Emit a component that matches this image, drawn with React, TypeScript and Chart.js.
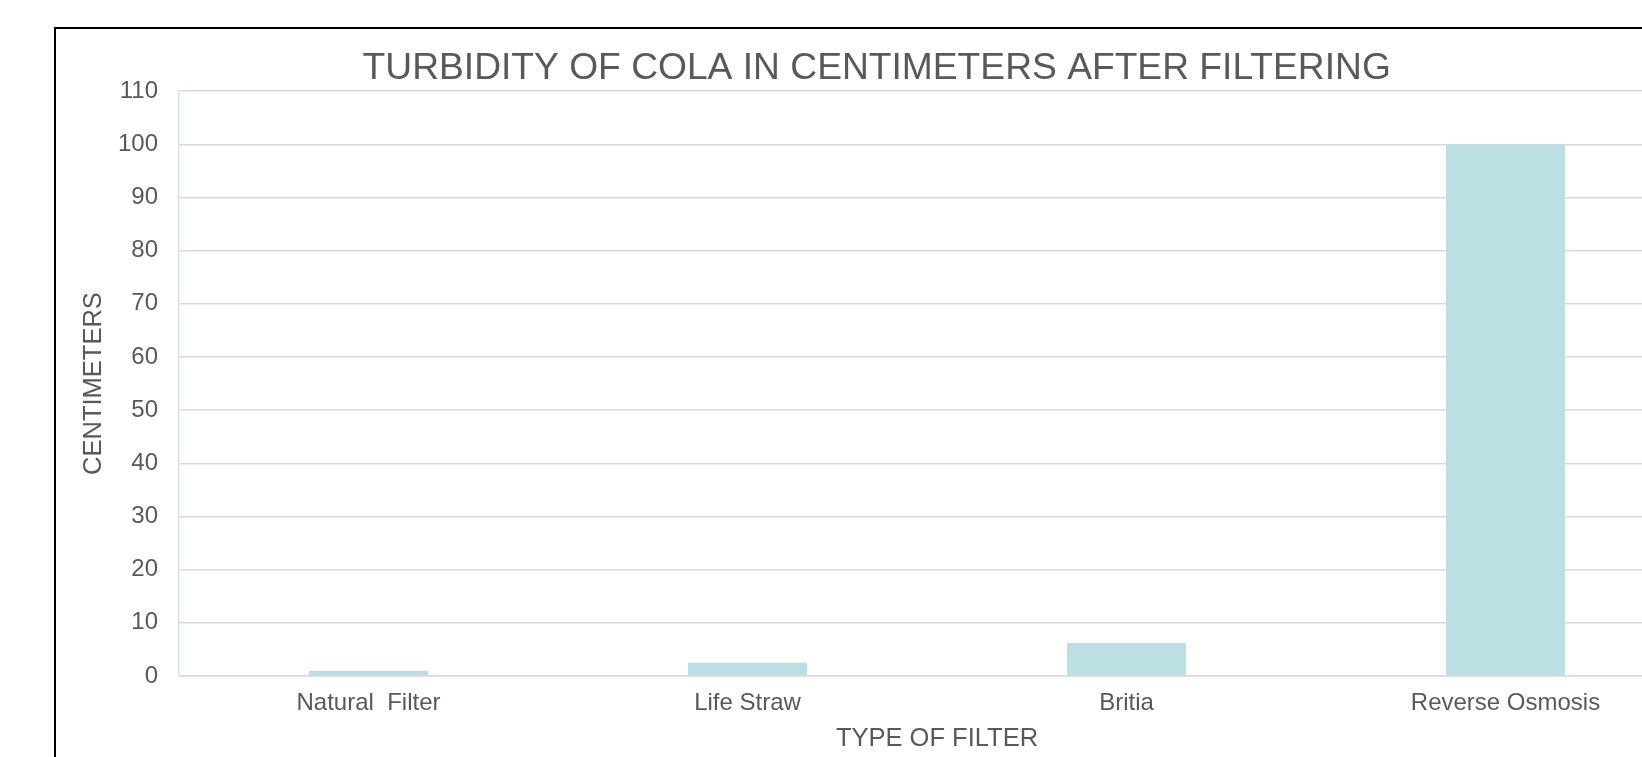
import React, { useEffect, useRef } from "react";
import { Chart, registerables } from "chart.js";

Chart.register(...registerables);

const chartTitle = "TURBIDITY OF COLA IN CENTIMETERS AFTER FILTERING";
const xAxisTitle = "TYPE OF FILTER";
const yAxisTitle = "CENTIMETERS";
const categories = ["Natural  Filter", "Life Straw", "Britia", "Reverse Osmosis"];
const turbidityCm = [1.0, 2.5, 6.2, 100];
const yMin = 0;
const yMax = 110;
const yStep = 10;

const FONT = '"Liberation Sans", Arial, sans-serif';
const TEXT = "#595959";

export default function App() {
  const ref = useRef<HTMLCanvasElement | null>(null);

  useEffect(() => {
    const canvas = ref.current;
    if (!canvas) return;
    const chart = new Chart(canvas, {
      type: "bar",
      data: {
        labels: categories,
        datasets: [
          {
            label: "Turbidity",
            data: turbidityCm,
            backgroundColor: "#bbdfe2",
            borderWidth: 0,
            categoryPercentage: 1,
            barPercentage: 0.314,
          },
        ],
      },
      options: {
        animation: false,
        responsive: false,
        maintainAspectRatio: false,
        devicePixelRatio: 1,
        layout: { padding: { top: 0, left: 58.4, right: 58, bottom: 0 } },
        plugins: {
          legend: { display: false },
          tooltip: { enabled: false },
          title: {
            display: true,
            text: chartTitle,
            color: TEXT,
            font: { family: FONT, size: 37.2, weight: "normal", lineHeight: 1.2 },
            padding: { top: 46.4, bottom: 0 },
          },
        },
        scales: {
          x: {
            grid: { display: false, drawTicks: false },
            border: { display: true, color: "#d9d9d9", width: 1.6 },
            ticks: {
              color: TEXT,
              font: { family: FONT, size: 24 },
              padding: 13,
              maxRotation: 0,
              autoSkip: false,
            },
            title: {
              display: true,
              text: xAxisTitle,
              color: TEXT,
              font: { family: FONT, size: 25.5, lineHeight: 1.2 },
              padding: { top: 0, bottom: 2.5 },
            },
            afterFit: (scale: any) => {
              scale.height = 81;
            },
          },
          y: {
            min: yMin,
            max: yMax,
            ticks: {
              stepSize: yStep,
              color: TEXT,
              font: { family: FONT, size: 24 },
              padding: 21,
            },
            grid: { color: "#d9d9d9", lineWidth: 1.4, drawTicks: false },
            border: { display: true, color: "#cde6ea", width: 1.5 },
            title: {
              display: true,
              text: yAxisTitle,
              color: TEXT,
              font: { family: FONT, size: 25.5, lineHeight: 1.2 },
              padding: { top: 20.5, bottom: 0 },
            },
            afterFit: (scale: any) => {
              scale.width = 120.6;
            },
          },
        },
      },
    });
    return () => chart.destroy();
  }, []);

  return (
    <div
      style={{
        position: "fixed",
        left: 0,
        top: 0,
        width: 1642,
        height: 757,
        overflow: "hidden",
        background: "#ffffff",
      }}
    >
      <canvas
        ref={ref}
        width={1753}
        height={757}
        style={{ position: "absolute", left: 0, top: 0, width: 1753, height: 757 }}
      />
      <div
        style={{
          position: "absolute",
          left: 54,
          top: 27,
          width: 2000,
          height: 2000,
          borderLeft: "2px solid #000",
          borderTop: "2px solid #000",
          pointerEvents: "none",
        }}
      />
    </div>
  );
}
